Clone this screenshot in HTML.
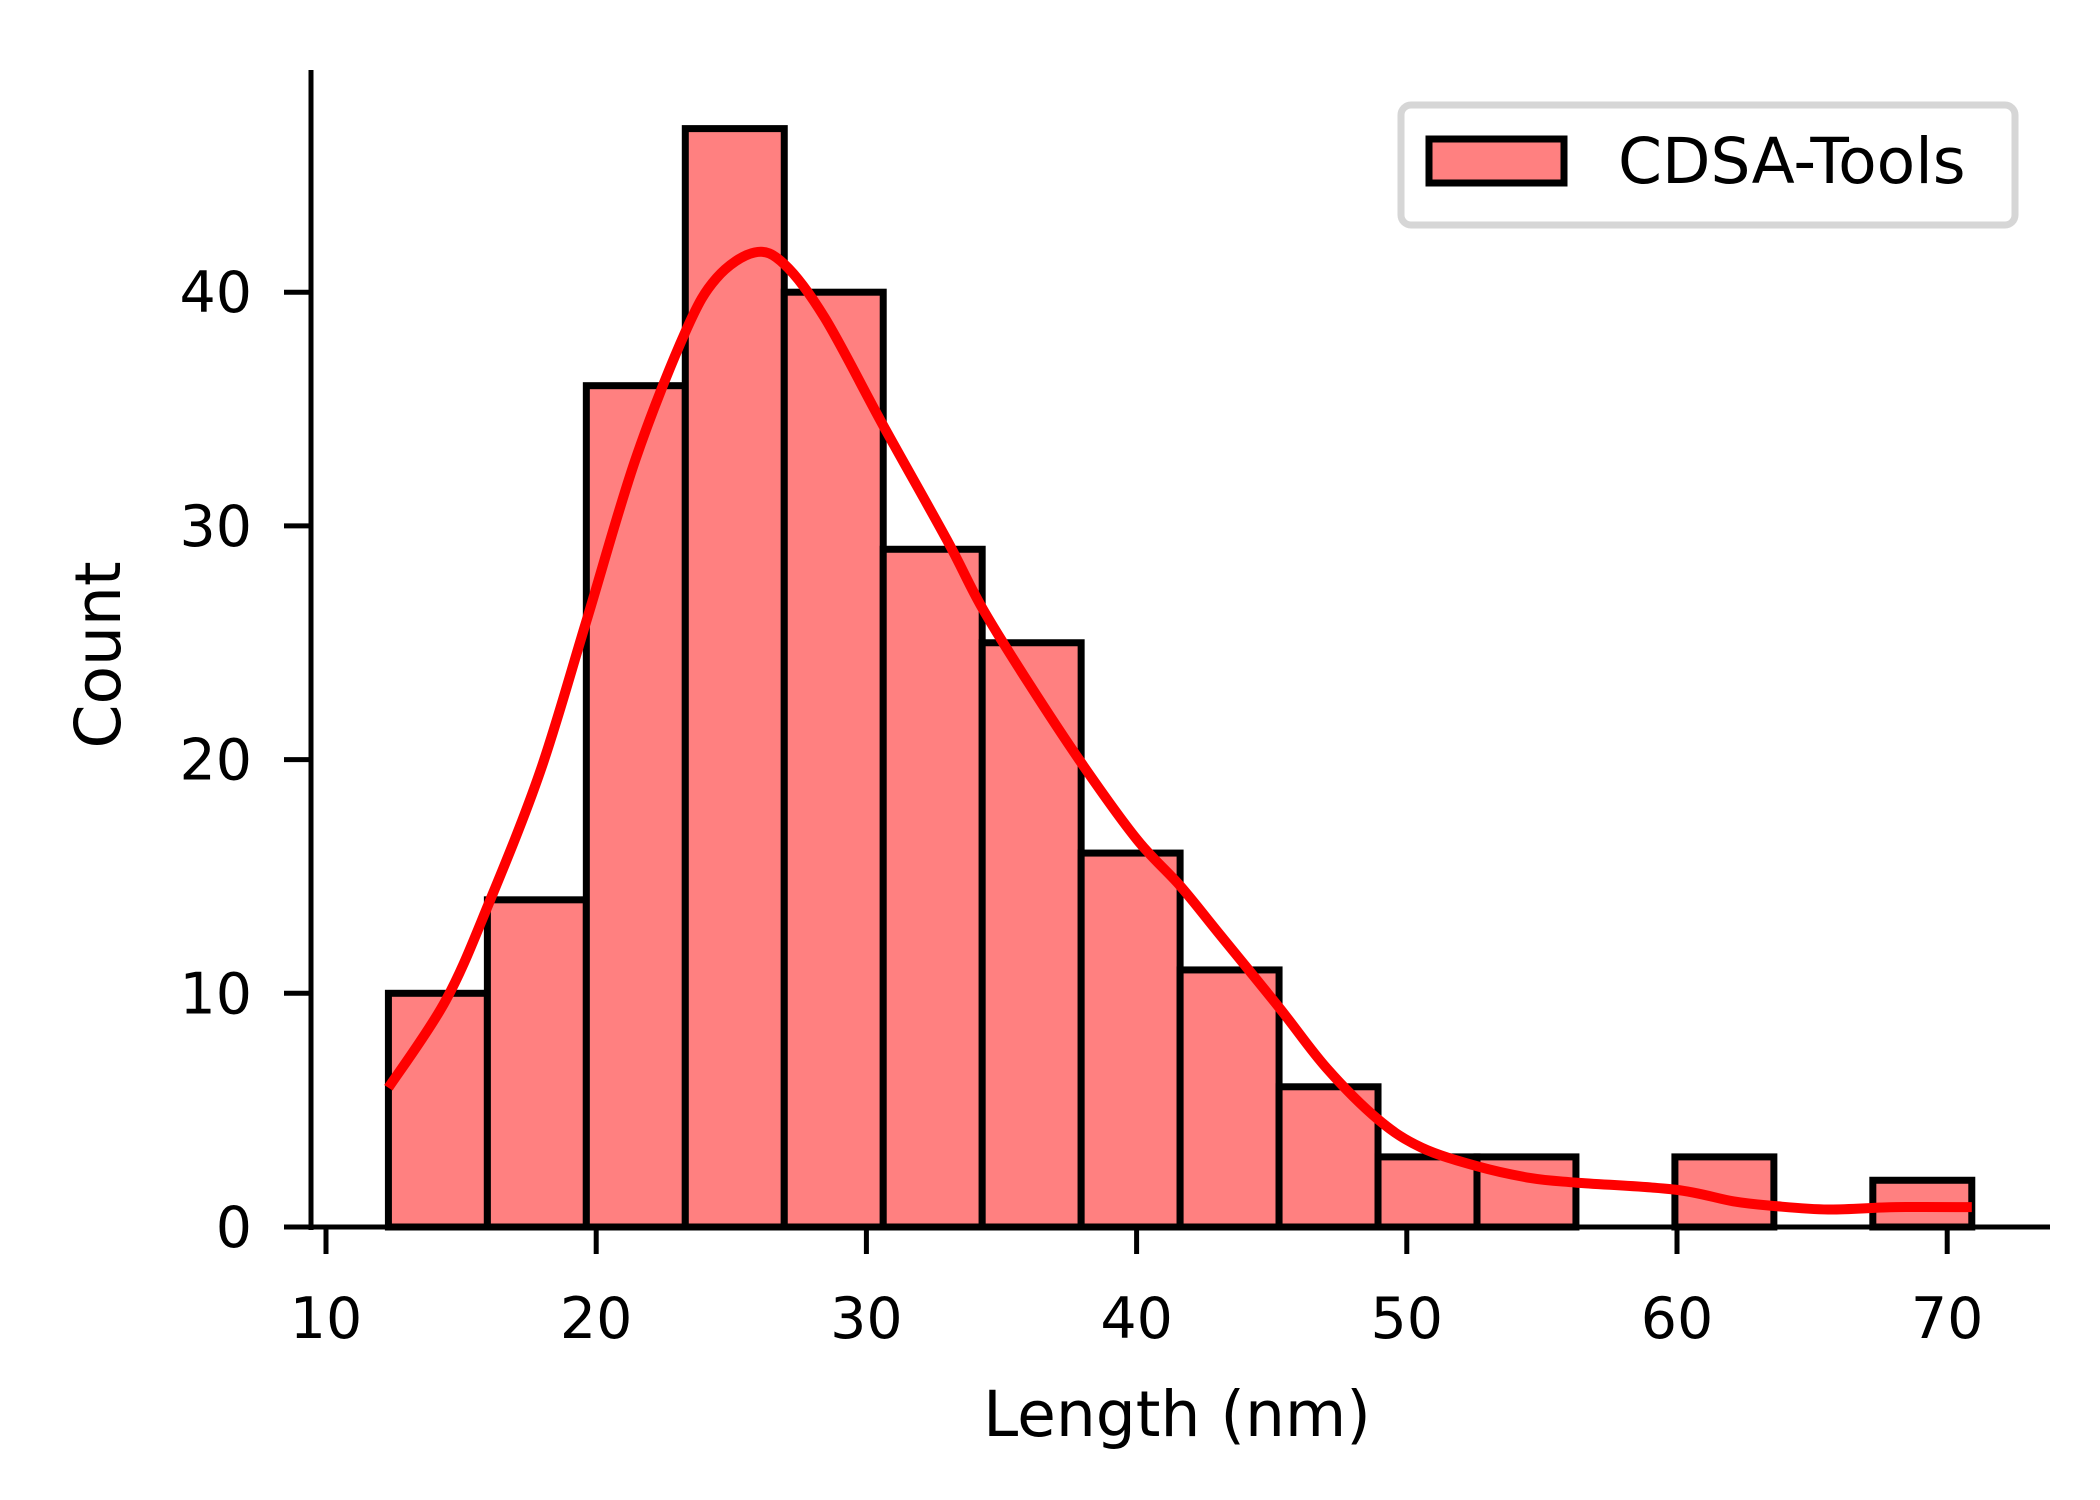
<!DOCTYPE html>
<html><head><meta charset="utf-8"><style>
html,body{margin:0;padding:0;background:#fff;}
svg{display:block;font-family:"DejaVu Sans","Liberation Sans",sans-serif;}
</style></head><body>
<svg id="chart" width="2100" height="1500" viewBox="0 0 2100 1500">
<g id="bars"></g>
<path id="kde" fill="none" stroke="#ff0000" stroke-width="10" stroke-linejoin="round"/>
<g id="axes"></g>
<text x="1177" y="1436" font-size="63" text-anchor="middle">Length (nm)</text>
<text transform="translate(120,655) rotate(-90)" font-size="63" text-anchor="middle">Count</text>
<g>
<rect x="1401" y="105" width="614" height="120" rx="10" fill="#fff" stroke="#d6d6d6" stroke-width="7"/>
<rect x="1429" y="139" width="135" height="44" fill="#ff8080" stroke="#000" stroke-width="7"/>
<text x="1618" y="183" font-size="63">CDSA-Tools</text>
</g>
</svg>
<script>
const binStart = 12.31;
const binWidth = 3.6625;
const counts = [10,14,36,47,40,29,25,16,11,6,3,3,0,3,0,2];
const xTicks = [10,20,30,40,50,60,70];
const yTicks = [0,10,20,30,40];
const kdeX = [12.31,14.42,16.02,17.93,19.63,21.44,23.3,24.45,25.86,26.96,28.46,30.62,32.98,34.28,35.99,37.99,40.0,41.61,43.02,45.27,47.03,48.94,50.54,52.6,54.56,56.26,59.92,62.08,63.59,65.6,68.1,70.91];
const kdeY = [5.96,9.67,13.83,19.5,25.9,32.8,38.3,40.6,41.7,41.2,38.9,34.3,29.4,26.5,23.3,19.8,16.6,14.6,12.6,9.4,6.8,4.6,3.4,2.6,2.1,1.9,1.6,1.1,0.9,0.75,0.85,0.85];

const NS='http://www.w3.org/2000/svg';
const sx = v => 326 + (v-10)*27.02;
const sy = v => 1227 - v*23.37;
const bars = document.getElementById('bars');
counts.forEach((c,i)=>{
  const x0 = sx(binStart+i*binWidth), x1 = sx(binStart+(i+1)*binWidth);
  const r = document.createElementNS(NS,'rect');
  r.setAttribute('x', x0); r.setAttribute('y', sy(c));
  r.setAttribute('width', x1-x0); r.setAttribute('height', sy(0)-sy(c));
  r.setAttribute('fill','#ff8080'); r.setAttribute('stroke','#000'); r.setAttribute('stroke-width','7');
  
  
  bars.appendChild(r);
});
const pts = kdeX.map((x,i)=>[sx(x), sy(kdeY[i])]);
let d = 'M'+pts[0][0]+','+pts[0][1];
for(let i=0;i<pts.length-1;i++){
  const p0=pts[Math.max(0,i-1)], p1=pts[i], p2=pts[i+1], p3=pts[Math.min(pts.length-1,i+2)];
  const c1=[p1[0]+(p2[0]-p0[0])/6, p1[1]+(p2[1]-p0[1])/6];
  const c2=[p2[0]-(p3[0]-p1[0])/6, p2[1]-(p3[1]-p1[1])/6];
  d += ` C${c1[0]},${c1[1]} ${c2[0]},${c2[1]} ${p2[0]},${p2[1]}`;
}
document.getElementById('kde').setAttribute('d', d);

const axes = document.getElementById('axes');
function line(x1,y1,x2,y2,name){
  const l=document.createElementNS(NS,'line');
  l.setAttribute('x1',x1);l.setAttribute('y1',y1);l.setAttribute('x2',x2);l.setAttribute('y2',y2);
  l.setAttribute('stroke','#000');l.setAttribute('stroke-width','5');
  
  
  axes.appendChild(l);
}
function text(x,y,s,anchor,name){
  const t=document.createElementNS(NS,'text');
  t.setAttribute('x',x);t.setAttribute('y',y);t.setAttribute('font-size','57');t.setAttribute('text-anchor',anchor);
  t.textContent=s;
  
  
  axes.appendChild(t);
}
line(311,70,311,1230,'y-axis-line');
line(284,1227,2050,1227,'x-axis-line');
yTicks.forEach(v=>{ line(284,sy(v),311,sy(v),'y-tick'); text(252,sy(v)+20,String(v),'end','y-tick-label'); });
xTicks.forEach(v=>{ line(sx(v),1227,sx(v),1254,'x-tick'); text(sx(v),1338,String(v),'middle','x-tick-label'); });
</script>
</body></html>
